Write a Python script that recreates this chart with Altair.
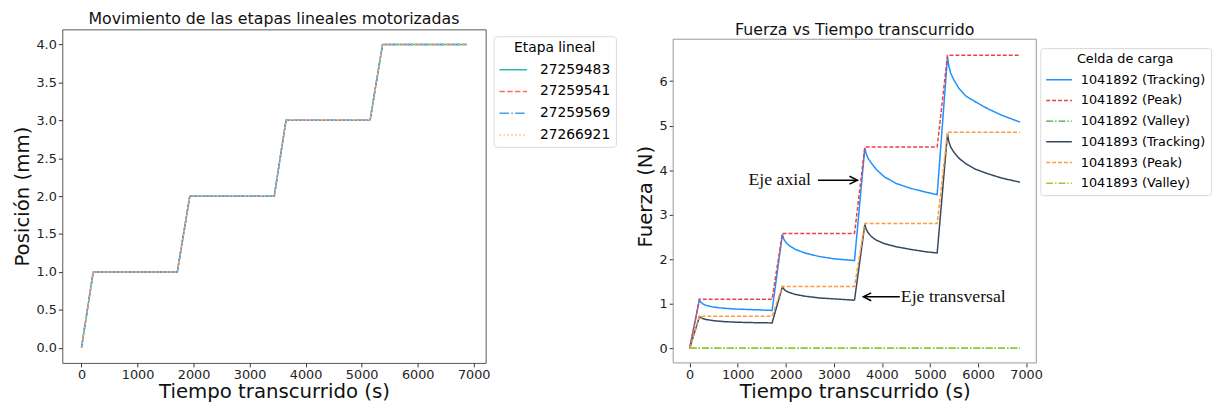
import altair as alt
import pandas as pd

# ---------------- Left chart data ----------------
etapas = ["27259483", "27259541", "27259569", "27266921"]
etapa_colors = ["#22bfae", "#f4725e", "#4a9fe0", "#f7b58a"]
etapa_dash = [[1, 0], [5.5, 2.4], [9.6, 2.4, 1.5, 2.4], [1.5, 2.5]]
t_etapa = [0, 209, 1710, 1933, 3440, 3650, 5150, 5373, 6873]
pos_27259483 = [0, 1, 1, 2, 2, 3, 3, 4, 4]
pos_27259541 = [0, 1, 1, 2, 2, 3, 3, 4, 4]
pos_27259569 = [0, 1, 1, 2, 2, 3, 3, 4, 4]
pos_27266921 = [0, 1, 1, 2, 2, 3, 3, 4, 4]

# ---------------- Right chart data ----------------
series = ["1041892 (Tracking)", "1041892 (Peak)", "1041892 (Valley)",
          "1041893 (Tracking)", "1041893 (Peak)", "1041893 (Valley)"]
series_colors = ["#1e90ff", "#e8414d", "#33b233", "#34495e", "#ff9a3c", "#9acd32"]
series_dash = [[1, 0], [4, 2], [7, 2, 1.5, 2], [1, 0], [4, 2], [7, 2, 1.5, 2]]

t_peak = [0, 203, 1715, 1930, 3430, 3645, 5150, 5365, 6870]
peak_1041892 = [0, 1.10, 1.10, 2.58, 2.58, 4.52, 4.52, 6.58, 6.58]
peak_1041893 = [0, 0.72, 0.72, 1.39, 1.39, 2.80, 2.80, 4.85, 4.85]

t_track = [0,
           203, 230, 270, 350, 500, 700, 1000, 1400, 1715,
           1930, 1960, 2000, 2080, 2200, 2400, 2700, 3000, 3430,
           3645, 3670, 3710, 3780, 3880, 4050, 4300, 4600, 4900, 5150,
           5365, 5390, 5430, 5500, 5600, 5750, 5950, 6200, 6500, 6870]
track_1041892 = [0,
                 1.09, 1.04, 1.00, 0.96, 0.925, 0.90, 0.88, 0.865, 0.85,
                 2.56, 2.45, 2.38, 2.30, 2.22, 2.14, 2.06, 2.01, 1.97,
                 4.50, 4.38, 4.27, 4.16, 4.02, 3.85, 3.70, 3.59, 3.51, 3.45,
                 6.55, 6.35, 6.18, 6.02, 5.84, 5.66, 5.53, 5.38, 5.23, 5.08]
track_1041893 = [0,
                 0.71, 0.69, 0.67, 0.645, 0.62, 0.60, 0.585, 0.575, 0.57,
                 1.38, 1.33, 1.29, 1.25, 1.21, 1.17, 1.13, 1.11, 1.08,
                 2.78, 2.68, 2.60, 2.51, 2.43, 2.35, 2.28, 2.22, 2.17, 2.14,
                 4.82, 4.65, 4.52, 4.40, 4.27, 4.14, 4.02, 3.92, 3.82, 3.73]

t_valley = [0, 6870]
valley_1041892 = [0, 0]
valley_1041893 = [0, 0]

# Annotations
ann_text = ["Eje axial", "Eje transversal"]
ann_x = [2525, 4393]
ann_y = [3.775, 1.157]
arrow_tail_x = [2669, 4373]
arrow_tip_x = [3490, 3613]
arrow_y = [3.775, 1.157]
arrow_angle = [0, 180]

x_ticks = [0, 1000, 2000, 3000, 4000, 5000, 6000, 7000]
y_ticks_left = [0.0, 0.5, 1.0, 1.5, 2.0, 2.5, 3.0, 3.5, 4.0]
y_ticks_right = [0, 1, 2, 3, 4, 5, 6]

FONT = "DejaVu Sans"

# ---------- build tables ----------
left_rows = []
for name, vals in zip(etapas, [pos_27259483, pos_27259541, pos_27259569, pos_27266921]):
    for i, (t, v) in enumerate(zip(t_etapa, vals)):
        left_rows.append({"t": t, "pos": v, "etapa": name, "i": i})
left_df = pd.DataFrame(left_rows)

right_rows = []
for name, ts, vals in [
    (series[0], t_track, track_1041892),
    (series[1], t_peak, peak_1041892),
    (series[2], t_valley, valley_1041892),
    (series[3], t_track, track_1041893),
    (series[4], t_peak, peak_1041893),
    (series[5], t_valley, valley_1041893),
]:
    for i, (t, v) in enumerate(zip(ts, vals)):
        right_rows.append({"t": t, "f": v, "serie": name, "i": i})
right_df = pd.DataFrame(right_rows)

ann_df = pd.DataFrame({"text": ann_text, "x": ann_x, "y": ann_y})
arrow_df = pd.DataFrame({"x": arrow_tail_x, "x2": arrow_tip_x, "y": arrow_y,
                         "ang": arrow_angle})

XDOM = [-343, 7213]
LW, LH = 429, 338
RW, RH = 368, 338


def legend(title, lx, ly, fs, sym, off, rp):
    return alt.Legend(title=title, orient="none", legendX=lx, legendY=ly,
                      symbolType="stroke", symbolSize=sym, symbolStrokeWidth=1.5,
                      labelFont=FONT, labelFontSize=fs, titleFont=FONT,
                      titleFontSize=fs, titleFontWeight="normal",
                      titleAnchor="middle", titleAlign="center",
                      strokeColor="#d9d9d9", fillColor="white", padding=5,
                      cornerRadius=3, labelOffset=off, rowPadding=rp, titlePadding=0)


LLEG = legend("Etapa lineal", 437, 7, 14, 784, 12, -1)
RLEG = legend("Celda de carga", 372, 19, 13, 676, 8, 0)

left = alt.Chart(left_df).mark_line(strokeWidth=1.5).encode(
    x=alt.X("t:Q", scale=alt.Scale(domain=XDOM, nice=False, zero=False),
            axis=alt.Axis(values=x_ticks, format="d", title="Tiempo transcurrido (s)",
                          titlePadding=0, labelPadding=2)),
    y=alt.Y("pos:Q", scale=alt.Scale(domain=[-0.2, 4.2], nice=False, zero=False),
            axis=alt.Axis(values=y_ticks_left, format=".1f", title="Posición (mm)",
                          titlePadding=4)),
    color=alt.Color("etapa:N", scale=alt.Scale(domain=etapas, range=etapa_colors),
                    legend=LLEG),
    strokeDash=alt.StrokeDash("etapa:N", scale=alt.Scale(domain=etapas, range=etapa_dash),
                              legend=LLEG),
    order="i:Q",
).properties(
    width=LW, height=LH,
    title=alt.TitleParams("Movimiento de las etapas lineales motorizadas", font=FONT,
                          fontSize=16, fontWeight="normal", offset=2, color="#111"),
    view=alt.ViewBackground(stroke="#555"),
)

xr = alt.X("t:Q", scale=alt.Scale(domain=XDOM, nice=False, zero=False),
           axis=alt.Axis(values=x_ticks, format="d", title="Tiempo transcurrido (s)",
                         titlePadding=0, labelPadding=2))
yr = alt.Y("f:Q", scale=alt.Scale(domain=[-0.328, 7.161], nice=False, zero=False),
           axis=alt.Axis(values=y_ticks_right, format="d", title="Fuerza (N)",
                         titlePadding=4))

lines = alt.Chart(right_df).mark_line(strokeWidth=1.5).encode(
    x=xr, y=yr,
    color=alt.Color("serie:N", scale=alt.Scale(domain=series, range=series_colors),
                    legend=RLEG),
    strokeDash=alt.StrokeDash("serie:N", scale=alt.Scale(domain=series, range=series_dash),
                              legend=RLEG),
    order="i:Q",
)

frame = alt.Chart(pd.DataFrame({"a": [0]})).mark_rect(
    fill="transparent", stroke="#999", strokeWidth=1
).encode(x=alt.value(0), x2=alt.value(RW), y=alt.value(10), y2=alt.value(RH))

txt_right = alt.Chart(ann_df.iloc[[0]]).mark_text(
    font="Liberation Serif", fontSize=18, align="right", baseline="middle", color="#111"
).encode(x="x:Q", y="y:Q", text="text:N")
txt_left = alt.Chart(ann_df.iloc[[1]]).mark_text(
    font="Liberation Serif", fontSize=18, align="left", baseline="middle", color="#111"
).encode(x="x:Q", y="y:Q", text="text:N")

arrow_line = alt.Chart(arrow_df).mark_rule(color="black", strokeWidth=1.5).encode(
    x="x:Q", x2="x2:Q", y="y:Q")
arrow_head = alt.Chart(arrow_df).mark_point(
    shape="M-2,-1L0,0L-2,1", filled=False, stroke="black", strokeWidth=1.5, size=64,
    opacity=1
).encode(x="x2:Q", y="y:Q", angle=alt.Angle("ang:Q", scale=None))

right = alt.layer(lines, frame, arrow_line, arrow_head, txt_right, txt_left).properties(
    width=RW, height=RH,
    title=alt.TitleParams("Fuerza vs Tiempo transcurrido", font=FONT, fontSize=16,
                          fontWeight="normal", offset=2, dy=11, color="#111"),
    view=alt.ViewBackground(stroke="transparent"),
)

chart = alt.hconcat(left, right, spacing=18).resolve_scale(
    color="independent", strokeDash="independent"
).properties(
    padding={"left": 3, "top": 0, "right": 0, "bottom": 0}
).configure_axis(
    labelFont=FONT, labelFontSize=13, labelColor="#222", tickColor="#333", tickSize=4,
    titleFont=FONT, titleFontSize=20, titleFontWeight="normal", titleColor="#111",
    grid=False, domain=False
)

chart.save("out.html", embed_options={"renderer": "svg", "actions": False})
